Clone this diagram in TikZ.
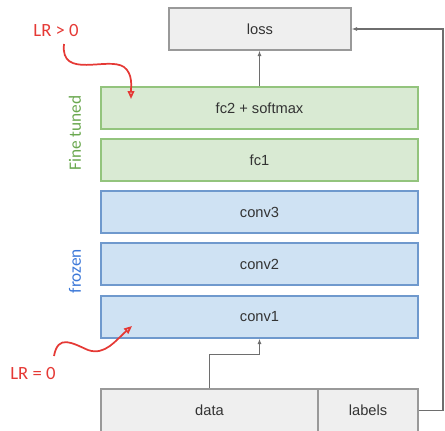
\documentclass[tikz,border=0pt]{standalone}
\usepackage{fontspec}
\setmainfont{Liberation Sans}
\newfontfamily\notefont{Carlito}
\usetikzlibrary{positioning, arrows.meta}
\definecolor{tunedfill}{RGB}{217,234,211}
\definecolor{tunedline}{RGB}{147,196,125}
\definecolor{frozenfill}{RGB}{207,226,243}
\definecolor{frozenline}{RGB}{111,153,205}
\definecolor{grayfill}{RGB}{239,239,239}
\definecolor{grayline}{RGB}{153,153,153}
\definecolor{arrowgray}{RGB}{110,110,110}
\definecolor{notered}{RGB}{229,57,53}
\definecolor{tunedtext}{RGB}{106,168,79}
\definecolor{frozentext}{RGB}{60,120,216}

\begin{document}
\begin{tikzpicture}[x=0.75pt,y=-0.75pt,
  layer/.style={draw, line width=1pt, minimum width=237.75pt, minimum height=31.5pt, inner sep=0pt,
    font=\fontsize{11}{13}\selectfont, text=black!80},
  tunedbox/.style={layer, fill=tunedfill, draw=tunedline},
  frozenbox/.style={layer, fill=frozenfill, draw=frozenline},
  graybox/.style={layer, fill=grayfill, draw=grayline},
  note/.style={font=\notefont\fontsize{14}{16}\selectfont, text=notered},
  side/.style={font=\notefont\fontsize{13}{15}\selectfont, rotate=90},
  arr/.style={-{Latex[length=4pt,width=3pt]}, line width=0.9pt, color=arrowgray},
  redarr/.style={-{Triangle[open,length=6pt,width=5pt]}, line width=1.3pt, color=notered}]
  \clip (0,0) rectangle (445,430);

  % network layers
  \node[graybox, minimum width=136.5pt] (loss) at (260,29) {loss};
  \node[tunedbox] (fc2) at (259.5,108) {fc2 + softmax};
  \node[tunedbox] (fc1) at (259.5,160) {fc1};
  \node[frozenbox] (conv3) at (259.5,212) {conv3};
  \node[frozenbox] (conv2) at (259.5,264) {conv2};
  \node[frozenbox] (conv1) at (259.5,317) {conv1};
  \node[graybox, minimum width=162.75pt, minimum height=32.25pt] (data) at (209.5,410.5) {data};
  \node[graybox, minimum width=75pt, minimum height=32.25pt] (labels) at (368,410.5) {labels};

  % side labels
  \node[side, text=tunedtext] (tuned) at (75,133) {Fine tuned};
  \node[side, text=frozentext] (frozen) at (75,271) {frozen};

  % connectors
  \draw[arr] (fc2.north) -- (fc2.north |- loss.south);
  \draw[arr] (data.north) -- ++(0,-34) -| (conv1.south);
  \coordinate (bend) at (443,410.5);
  \draw[arr] (labels.east) -- (bend) |- (loss.east);

  % learning rate notes
  \node[note] (lrpos) at (56,30) {LR > 0};
  \node[note] (lrzero) at (33,373) {LR = 0};
  \coordinate (pos tip) at (131,99);
  \coordinate (zero tip) at (132,326);
  \draw[redarr] (64,44) .. controls (60,80) and (108,56) .. (124,67) .. controls (133,74) and (131,86) .. (pos tip);
  \draw[redarr] (54,356) .. controls (58,334) and (72,343) .. (88,350) .. controls (105,356) and (116,340) .. (zero tip);
\end{tikzpicture}
\end{document}
